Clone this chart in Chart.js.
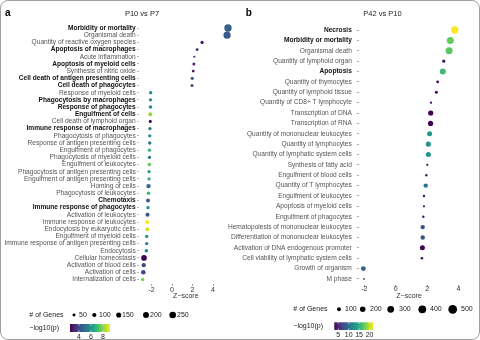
<!DOCTYPE html>
<html>
<head>
<meta charset="utf-8">
<script src="https://cdn.jsdelivr.net/npm/chart.js@4.4.1/dist/chart.umd.min.js"></script>
<style>
    html, body { margin: 0; padding: 0; background: #fff; }
    #frame { position: relative; width: 480px; height: 340px; overflow: hidden; }
    #frame::after { content: ''; position: absolute; left: 0; top: 0; right: 0; bottom: 0;
        border: 1px solid #a0a0a0; border-radius: 8px; pointer-events: none; }
    canvas { position: absolute; top: 0; }
</style>
</head>
<body>
<div id="frame">
    <canvas id="chartA" width="240" height="340" style="left:0"></canvas>
    <canvas id="chartB" width="265" height="340" style="left:215px"></canvas>
</div>
<script>
// Panel a: P10 vs P7
const termsA = [
    'Morbidity or mortality', 'Organismal death', 'Quantity of reactive oxygen species',
    'Apoptosis of macrophages', 'Acute inflammation', 'Apoptosis of myeloid cells',
    'Synthesis of nitric oxide', 'Cell death of antigen presenting cells', 'Cell death of phagocytes',
    'Response of myeloid cells', 'Phagocytosis by macrophages', 'Response of phagocytes',
    'Engulfment of cells', 'Cell death of lymphoid organ', 'Immune response of macrophages',
    'Phagocytosis of phagocytes', 'Response of antigen presenting cells', 'Engulfment of phagocytes',
    'Phagocytosis of myeloid cells', 'Engulfment of leukocytes', 'Phagocytosis of antigen presenting cells',
    'Engulfment of antigen presenting cells', 'Homing of cells', 'Phagocytosis of leukocytes',
    'Chemotaxis', 'Immune response of phagocytes', 'Activation of leukocytes',
    'Immune response of leukocytes', 'Endocytosis by eukaryotic cells', 'Engulfment of myeloid cells',
    'Immune response of antigen presenting cells', 'Endocytosis', 'Cellular homeostasis',
    'Activation of blood cells', 'Activation of cells', 'Internalization of cells'
];
const zA = [5.46, 5.37, 2.93, 2.45, 2.18, 2.13, 2.07, 1.97, 1.95,
    -2.08, -2.1, -2.1, -2.12, -2.12, -2.15, -2.17, -2.17, -2.2, -2.2, -2.21,
    -2.24, -2.24, -2.29, -2.29, -2.34, -2.34, -2.39, -2.41, -2.41, -2.47,
    -2.47, -2.5, -2.73, -2.76, -2.8, -2.86];
const genesA = [310, 290, 58, 44, 27, 51, 44, 58, 58,
    65, 62, 65, 90, 55, 62, 62, 65, 65, 62, 72,
    62, 62, 110, 65, 85, 65, 95, 95, 85, 62,
    62, 70, 180, 110, 120, 65];
const logpA = [4.6, 4.4, 2.8, 3.0, 3.3, 3.2, 2.8, 4.2, 4.1,
    5.6, 5.6, 5.7, 8.1, 2.7, 5.2, 5.8, 5.3, 7.0, 5.2, 7.6,
    6.2, 6.8, 4.8, 7.0, 4.2, 5.8, 4.2, 9.2, 8.8, 6.0,
    5.3, 5.7, 2.5, 3.9, 4.0, 7.8];
const boldA = ['Morbidity or mortality', 'Apoptosis of macrophages', 'Apoptosis of myeloid cells',
    'Cell death of antigen presenting cells', 'Cell death of phagocytes', 'Phagocytosis by macrophages',
    'Response of phagocytes', 'Engulfment of cells', 'Immune response of macrophages',
    'Chemotaxis', 'Immune response of phagocytes'];
const xTicksA = [-2, 0, 2, 4];
const sizeBreaksA = [50, 100, 150, 200, 250];
const colorBreaksA = [4, 6, 8];

// Panel b: P42 vs P10
const termsB = [
    'Necrosis', 'Morbidity or mortality', 'Organismal death', 'Quantity of lymphoid organ',
    'Apoptosis', 'Quantity of thymocytes', 'Quantity of lymphoid tissue', 'Quantity of CD8+ T lymphocyte',
    'Transcription of DNA', 'Transcription of RNA', 'Quantity of mononuclear leukocytes',
    'Quantity of lymphocytes', 'Quantity of lymphatic system cells', 'Synthesis of fatty acid',
    'Engulfment of blood cells', 'Quantity of T lymphocytes', 'Engulfment of leukocytes',
    'Apoptosis of myeloid cells', 'Engulfment of phagocytes', 'Hematopoiesis of mononuclear leukocytes',
    'Differentiation of mononuclear leukocytes', 'Activation of DNA endogenous promoter',
    'Cell viability of lymphatic system cells', 'Growth of organism', 'M phase'
];
const zB = [3.76, 3.48, 3.4, 3.06, 3.0, 2.67, 2.59, 2.25, 2.23, 2.22, 2.16, 2.08, 2.08,
    2.01, 1.95, 1.91, 1.8, 1.8, 1.76, 1.72, 1.72, 1.7, 1.67, -2.06, -2.02];
const genesB = [360, 322, 320, 67, 237, 52, 60, 32, 178, 178, 165, 165, 165,
    32, 38, 127, 38, 32, 38, 127, 127, 165, 44, 150, 21];
const logpB = [21.8, 17.4, 17.0, 4.0, 15.9, 3.6, 3.6, 3.6, 3.1, 3.1, 12.9, 12.6, 12.8,
    3.6, 4.0, 10.2, 4.0, 3.8, 4.0, 7.6, 7.6, 3.2, 3.6, 8.4, 5.4];
const boldB = ['Necrosis', 'Morbidity or mortality', 'Apoptosis'];
const xTicksB = [-2, 0, 2, 4];
const sizeBreaksB = [100, 200, 300, 400, 500];
const colorBreaksB = [5, 10, 15, 20];

const FONT = '"Liberation Sans", Arial, sans-serif';
Chart.defaults.font.family = FONT;

// viridis colour map
const viridisStops = ['#440154', '#482475', '#414487', '#355f8d', '#2a788e', '#21918c',
    '#22a884', '#44bf70', '#7ad151', '#bddf26', '#fde725'];
function hexRgb(h) {
    return [1, 3, 5].map(i => parseInt(h.substr(i, 2), 16));
}
function viridis(t) {
    t = Math.max(0, Math.min(1, t));
    const p = t * (viridisStops.length - 1);
    const i = Math.min(Math.floor(p), viridisStops.length - 2);
    const f = p - i;
    const a = hexRgb(viridisStops[i]), b = hexRgb(viridisStops[i + 1]);
    const c = a.map((v, k) => Math.round(v + (b[k] - v) * f));
    return `rgb(${c[0]}, ${c[1]}, ${c[2]})`;
}

// titles and legends; coordinates are given in page pixels
function makeDecor(cfg, lo, hi) {
    return {
        id: 'decor',
        afterDraw(chart) {
            const c = chart.ctx;
            c.save();
            c.translate(-cfg.originX, 0);
            c.fillStyle = '#000';
            c.font = `bold 10px ${FONT}`;
            c.textAlign = 'left';
            c.textBaseline = 'alphabetic';
            c.fillText(cfg.letter, cfg.letterX, 16);
            c.font = `7.5px ${FONT}`;
            c.fillStyle = '#222';
            c.textAlign = 'center';
            c.textBaseline = 'middle';
            c.fillText(cfg.title, cfg.titleX, 14);

            // size legend
            const sl = cfg.sizeLegend;
            c.font = `7px ${FONT}`;
            c.textAlign = 'left';
            c.fillStyle = '#222';
            c.fillText('# of Genes', sl.x, sl.y);
            cfg.sizeBreaks.forEach((b, i) => {
                c.beginPath();
                c.arc(sl.keys[i], sl.y, cfg.radius(b), 0, Math.PI * 2);
                c.fillStyle = '#000';
                c.fill();
                c.fillStyle = '#222';
                c.fillText(String(b), sl.labels[i], sl.y);
            });

            // colour bar
            const cb = cfg.colorBar;
            c.fillText('\u2212log10(p)', sl.x, cb.y + cb.h / 2);
            const g = c.createLinearGradient(cb.x, 0, cb.x + cb.w, 0);
            viridisStops.forEach((s, i) => g.addColorStop(i / (viridisStops.length - 1), s));
            c.fillStyle = g;
            c.fillRect(cb.x, cb.y, cb.w, cb.h);
            c.strokeStyle = '#fff';
            c.lineWidth = 0.6;
            c.textAlign = 'center';
            c.fillStyle = '#222';
            cfg.colorBreaks.forEach(v => {
                const x = cb.x + cb.w * (v - lo) / (hi - lo);
                c.beginPath();
                c.moveTo(x, cb.y); c.lineTo(x, cb.y + 1.6);
                c.moveTo(x, cb.y + cb.h - 1.6); c.lineTo(x, cb.y + cb.h);
                c.stroke();
                c.fillText(String(v), x, cb.y + cb.h + 5.5);
            });
            c.restore();
        }
    };
}

function makeChart(id, cfg) {
    const lo = Math.min(...cfg.logp), hi = Math.max(...cfg.logp);
    const points = cfg.terms.map((t, i) => ({ x: cfg.z[i], y: i, r: cfg.radius(cfg.genes[i]) }));
    const colors = cfg.logp.map(v => viridis((v - lo) / (hi - lo)));
    return new Chart(document.getElementById(id), {
        type: 'bubble',
        data: {
            datasets: [{
                data: points,
                backgroundColor: colors,
                borderWidth: 0,
                clip: false
            }]
        },
        options: {
            responsive: false,
            animation: false,
            layout: { padding: cfg.padding },
            plugins: {
                legend: { display: false },
                tooltip: { enabled: false }
            },
            scales: {
                x: {
                    type: 'linear',
                    min: cfg.xMin,
                    max: cfg.xMax,
                    afterBuildTicks: s => { s.ticks = cfg.xTicks.map(v => ({ value: v })); },
                    afterFit: s => { s.height = cfg.xAxisHeight; },
                    ticks: { font: { size: 7 }, color: '#333', padding: cfg.xPad, maxRotation: 0 },
                    grid: { drawOnChartArea: false, tickLength: 2, color: '#555', tickWidth: 0.6 },
                    border: { display: false },
                    title: { display: true, text: 'Z\u2212score', font: { size: 7 }, color: '#333', padding: 0 }
                },
                y: {
                    type: 'linear',
                    reverse: true,
                    min: -0.6,
                    max: cfg.terms.length - 0.4,
                    afterBuildTicks: s => { s.ticks = cfg.terms.map((t, i) => ({ value: i })); },
                    afterFit: s => { s.width = cfg.yAxisWidth; },
                    ticks: {
                        autoSkip: false,
                        padding: cfg.yPad,
                        callback: (v, i) => cfg.terms[i],
                        font: ctx => ({
                            size: 6.6,
                            weight: cfg.bold.includes(cfg.terms[ctx.index]) ? 'bold' : 'normal'
                        }),
                        color: ctx => cfg.bold.includes(cfg.terms[ctx.index]) ? '#111' : '#555'
                    },
                    grid: { drawOnChartArea: false, tickLength: 2, color: '#777', tickWidth: 0.6 },
                    border: { display: false }
                }
            }
        },
        plugins: [makeDecor(cfg, lo, hi)]
    });
}

const chartA = makeChart('chartA', {
    terms: termsA, z: zA, genes: genesA, logp: logpA, bold: boldA,
    xTicks: xTicksA, sizeBreaks: sizeBreaksA, colorBreaks: colorBreaksA,
    radius: n => 0.21 * Math.sqrt(n),
    xMin: -3.2, xMax: 5.9,
    originX: 0,
    padding: { left: 0, right: 7.5, top: 23.7, bottom: 40.2 },
    yAxisWidth: 139.2, xAxisHeight: 16, yPad: 1.5, xPad: 0.5,
    letter: 'a', letterX: 5, title: 'P10 vs P7', titleX: 142,
    sizeLegend: { x: 29.3, y: 315, keys: [74, 94.3, 118.7, 146, 172.7], labels: [79, 99, 122, 150, 177] },
    colorBar: { x: 70, y: 324, w: 40, h: 8 }
});

const chartB = makeChart('chartB', {
    terms: termsB, z: zB, genes: genesB, logp: logpB, bold: boldB,
    xTicks: xTicksB, sizeBreaks: sizeBreaksB, colorBreaks: colorBreaksB,
    radius: n => 0.195 * Math.sqrt(n),
    xMin: -2.35, xMax: 4.05,
    originX: 215,
    padding: { left: 0, right: 20.7, top: 23.8, bottom: 40.1 },
    yAxisWidth: 143.8, xAxisHeight: 14.7, yPad: 5, xPad: -2.5,
    letter: 'b', letterX: 245.7, title: 'P42 vs P10', titleX: 382.5,
    sizeLegend: { x: 293.3, y: 309.3, keys: [339, 362.7, 390.7, 422.3, 452.7], labels: [345, 370, 399, 430, 461] },
    colorBar: { x: 334.3, y: 322.3, w: 39, h: 7.7 }
});
</script>
</body>
</html>
